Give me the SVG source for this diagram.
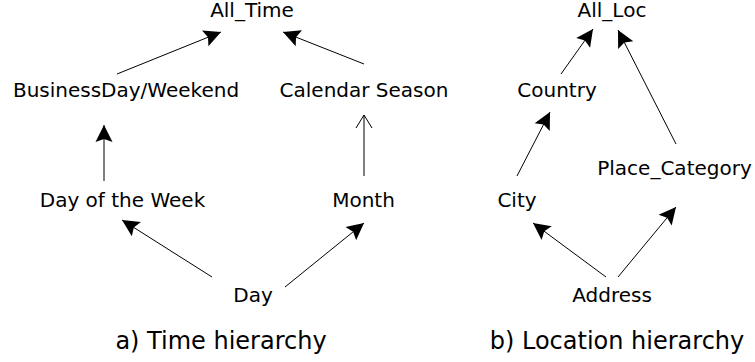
<svg xmlns="http://www.w3.org/2000/svg" width="755" height="362" viewBox="0 0 755 362">
<defs>
<style>
text{font-family:"DejaVu Sans","Liberation Sans",sans-serif;fill:#000;text-anchor:middle}
.n{font-size:20px}
.cap{font-size:24px}
.e{stroke:#000;stroke-width:1;fill:none;marker-end:url(#ah)}
.o{stroke:#000;stroke-width:1;fill:none;marker-end:url(#oh)}
</style>
<marker id="ah" markerUnits="userSpaceOnUse" viewBox="-18 -9 19 18" markerWidth="19" markerHeight="18" refX="0" refY="0" orient="auto">
<path d="M0,0 L-17,-8.5 L-14,0 L-17,8.5 Z" fill="#000"/>
</marker>
<marker id="oh" markerUnits="userSpaceOnUse" viewBox="-15 -10 16 20" markerWidth="16" markerHeight="20" refX="0" refY="0" orient="auto">
<path d="M-13,-8 L0,0 L-13,8" fill="none" stroke="#000" stroke-width="1"/>
</marker>
</defs>
<rect width="755" height="362" fill="#fff"/>
<g id="connectors">
<line class="e" x1="117" y1="74" x2="221" y2="32"/>
<line class="e" x1="364" y1="64" x2="283" y2="32"/>
<line class="e" x1="104" y1="181" x2="104" y2="125"/>
<line class="o" x1="364" y1="176" x2="364" y2="115"/>
<line class="e" x1="212" y1="277" x2="122" y2="220"/>
<line class="e" x1="285" y1="287" x2="364" y2="223"/>
<line class="e" x1="561" y1="74" x2="593" y2="29"/>
<line class="e" x1="676" y1="144" x2="618" y2="30"/>
<line class="e" x1="517" y1="176" x2="550" y2="112"/>
<line class="e" x1="606" y1="277" x2="533" y2="223"/>
<line class="e" x1="618" y1="277" x2="676" y2="207"/>
</g>
<g id="all_time"><text class="n" x="252" y="17">All_Time</text></g>
<g id="businessday_weekend"><text class="n" x="126" y="97">BusinessDay/Weekend</text></g>
<g id="calendar_season"><text class="n" x="364" y="97">Calendar Season</text></g>
<g id="day_of_week"><text class="n" x="122.5" y="207">Day of the Week</text></g>
<g id="month"><text class="n" x="363.5" y="207">Month</text></g>
<g id="day"><text class="n" x="253" y="302">Day</text></g>
<g id="all_loc"><text class="n" x="612" y="17">All_Loc</text></g>
<g id="country"><text class="n" x="557" y="97">Country</text></g>
<g id="place_category"><text class="n" x="674.5" y="175">Place_Category</text></g>
<g id="city"><text class="n" x="517" y="207">City</text></g>
<g id="address"><text class="n" x="612" y="302">Address</text></g>
<g id="captions">
<text class="cap" x="221" y="349">a) Time hierarchy</text>
<text class="cap" x="617" y="349">b) Location hierarchy</text>
</g>
</svg>
